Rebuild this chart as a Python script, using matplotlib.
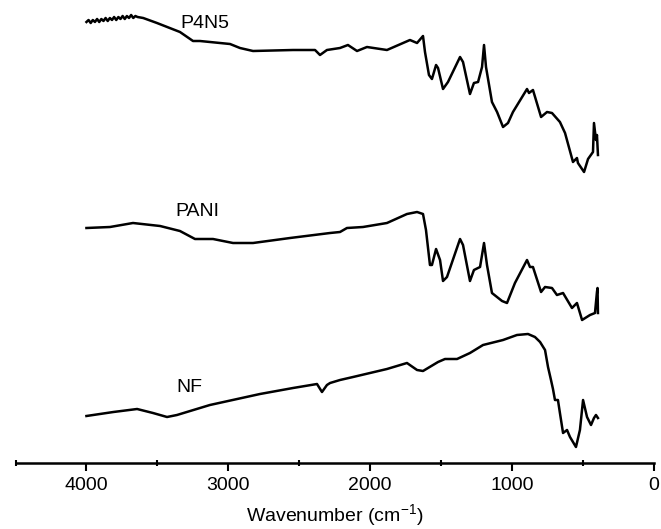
"""FTIR spectra of NF, PANI and P4N5 (stacked, arbitrary transmittance units).
Writes out.png.
"""
import matplotlib
matplotlib.use("Agg")
import matplotlib.pyplot as plt
from matplotlib.ticker import MultipleLocator

plt.rcParams["font.family"] = ["Liberation Sans", "DejaVu Sans"]
plt.rcParams["mathtext.fontset"] = "custom"
plt.rcParams["mathtext.rm"] = "Liberation Sans"
plt.rcParams["mathtext.it"] = "Liberation Sans"

# values (wavenumber cm-1, stacked transmittance a.u.)
p4n5_wn = [4000, 3985, 3970, 3955, 3940, 3925, 3910, 3895, 3880, 3865, 3850, 3835,
           3820, 3805, 3790, 3775, 3760, 3745, 3730, 3715, 3700, 3685, 3670, 3655,
           3640, 3600, 3503, 3341, 3249, 3200, 2988, 2918, 2826, 2544, 2389, 2354,
           2305, 2213, 2157, 2093, 2023, 1882, 1720, 1670, 1628, 1614, 1586, 1565,
           1536, 1522, 1487, 1452, 1367, 1346, 1297, 1269, 1240, 1212, 1198, 1184,
           1142, 1106, 1064, 1029, 994, 895, 881, 853, 796, 754, 719, 663, 627,
           571, 543, 536, 493, 465, 430, 423, 409, 402, 395]
p4n5_t = [441, 443, 440, 443, 441, 444, 441, 444, 442, 445, 442, 445,
          443, 446, 443, 446, 444, 447, 444, 447, 445, 448, 445, 447,
          446, 445, 440, 431, 422, 422, 419, 415, 412, 413, 413, 408,
          413, 415, 418, 412, 416, 413, 423, 420, 427, 411, 388, 384,
          398, 395, 374, 381, 406, 401, 369, 380, 381, 396, 418, 396,
          361, 351, 336, 340, 351, 374, 370, 373, 346, 351, 350, 341, 330,
          301, 305, 300, 291, 304, 311, 340, 323, 328, 308]

pani_wn = [4000, 3834, 3672, 3481, 3341, 3235, 3108, 2967, 2826, 2565, 2283, 2213,
           2164, 2051, 1882, 1741, 1670, 1628, 1607, 1579, 1565, 1536, 1508, 1487,
           1459, 1367, 1346, 1297, 1269, 1226, 1198, 1177, 1142, 1071, 1036, 980,
           895, 874, 853, 796, 768, 719, 684, 641, 578, 543, 507, 451, 416, 402,
           398, 395]
pani_t = [235, 236, 240, 237, 232, 224, 224, 220, 220, 225, 230, 231,
          235, 236, 240, 249, 251, 249, 233, 198, 198, 214, 203, 182,
          186, 224, 218, 182, 193, 196, 220, 198, 170, 162, 160, 180,
          203, 196, 196, 171, 176, 175, 168, 170, 155, 160, 143, 148, 150, 171,
          175, 150]

nf_wn = [4000, 3810, 3643, 3531, 3432, 3362, 3130, 2777, 2544, 2375, 2340, 2305,
         2283, 2213, 2121, 1882, 1741, 1670, 1628, 1522, 1473, 1388, 1297, 1205,
         1064, 966, 888, 839, 803, 768, 747, 726, 712, 698, 677, 663, 641, 613,
         592, 550, 522, 500, 472, 444, 423, 409, 395]
nf_t = [47, 51, 54, 50, 46, 48, 58, 69, 75, 79, 71, 78,
        80, 83, 86, 94, 100, 93, 92, 101, 104, 104, 110, 118,
        123, 128, 129, 126, 121, 113, 96, 83, 74, 63, 63, 50, 30, 33,
        26, 16, 33, 63, 46, 38, 45, 48, 45]

labels = ["P4N5", "PANI", "NF"]
label_wn = [3164, 3221, 3277]
label_t = [440, 251, 75]


def main():
    fig = plt.figure(figsize=(6.61, 5.29), dpi=100)
    ax = fig.add_axes([15.5 / 661, 66 / 529, 638.5 / 661, 463 / 529])
    for wn, t in [(p4n5_wn, p4n5_t), (pani_wn, pani_t), (nf_wn, nf_t)]:
        ax.plot(wn, t, color="black", lw=1.8, solid_joinstyle="round")
    for lab, x, y in zip(labels, label_wn, label_t):
        ax.text(x, y, lab, fontsize=14, ha="center", va="center")

    ax.set_xlim(4500, 0)
    ax.set_ylim(0, 463)
    ax.xaxis.set_major_locator(MultipleLocator(1000))
    ax.xaxis.set_minor_locator(MultipleLocator(500))
    ax.tick_params(axis="x", which="major", direction="out", length=6, width=1.5,
                   labelsize=14, pad=4)
    ax.tick_params(axis="x", which="minor", direction="inout", length=5, width=1.5)
    ax.set_yticks([])
    for s in ["left", "right", "top"]:
        ax.spines[s].set_visible(False)
    ax.spines["bottom"].set_linewidth(1.8)
    ax.set_xlabel(r"Wavenumber (cm$^{-1}$)", fontsize=14, labelpad=6)
    fig.savefig("out.png", dpi=100)


if __name__ == "__main__":
    main()
